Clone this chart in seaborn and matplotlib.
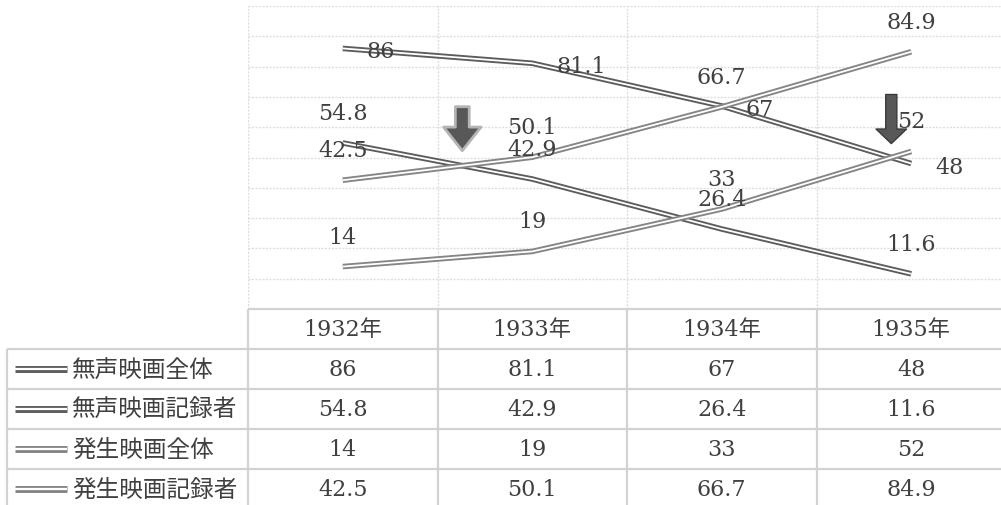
import matplotlib
matplotlib.use("Agg")
import matplotlib.pyplot as plt
import matplotlib.patheffects as pe
import numpy as np
import pandas as pd
import seaborn as sns

# ---- data -------------------------------------------------------------
years = ["1932年", "1933年", "1934年", "1935年"]
series_names = ["無声映画全体", "無声映画記録者", "発生映画全体", "発生映画記録者"]
silent_total = [86, 81.1, 67, 48]
silent_recorded = [54.8, 42.9, 26.4, 11.6]
sound_total = [14, 19, 33, 52]
sound_recorded = [42.5, 50.1, 66.7, 84.9]

series_values = [silent_total, silent_recorded, sound_total, sound_recorded]
series_colors = ["#5c5c5c", "#5c5c5c", "#858585", "#858585"]

# ---- styling ----------------------------------------------------------
sns.set_theme(style="white")
plt.rcParams["font.family"] = ["DejaVu Serif", "Noto Sans CJK JP"]
TEXT = "#404040"
GRID = "#dedede"
TABLE_LINE = "#d2d2d2"
FS = 16        # numbers
FS_JP = 17     # Japanese row labels

W, H = 1001, 506
fig = plt.figure(figsize=(W / 100, H / 100), dpi=100)

# plot area: columns of 189.5 px starting at x=248, from y=7 to y=310
col_px = 189.5
left_px, top_px, plot_bottom_px = 248, 7, 310
ax = fig.add_axes([left_px / W, (H - plot_bottom_px) / H,
                   4 * col_px / W, (plot_bottom_px - top_px) / H])

df = pd.DataFrame({
    "series": np.repeat(series_names, len(years)),
    "pos": np.tile(np.arange(len(years)), len(series_names)),
    "value": np.concatenate(series_values),
})
palette = dict(zip(series_names, series_colors))
sns.lineplot(data=df, x="pos", y="value", hue="series", hue_order=series_names,
             palette=palette, ax=ax, legend=False, sort=False)

# double-line look: white core over a grey stroke
for line, col in zip(ax.lines, series_colors):
    line.set_color("white")
    line.set_linewidth(1.3)
    line.set_solid_capstyle("butt")
    line.set_path_effects([pe.Stroke(linewidth=4.0, foreground=col, capstyle="butt"),
                           pe.Normal()])

ax.set_xlim(-0.5, 3.5)
ax.set_ylim(0, 100)
ax.set_xlabel("")
ax.set_ylabel("")
ax.set_xticks([])
ax.set_yticks([])
for s in ax.spines.values():
    s.set_visible(False)

# dotted grid: every 10 units, and at the column boundaries
for yv in np.arange(10, 101, 10):
    ax.axhline(yv, color=GRID, lw=1.0, ls=(0, (1.5, 1)), zorder=0)
for xv in np.arange(-0.5, 3.5, 1.0):
    ax.axvline(xv, color=GRID, lw=1.0, ls=(0, (1.5, 1)), zorder=0)

# value labels
fmt = lambda v: f"{v:g}"
for i, (name, vals) in enumerate(zip(series_names, series_values)):
    for x, v in enumerate(vals):
        if i == 0:
            ax.annotate(fmt(v), (x, v), xytext=(24, -3), textcoords="offset pixels",
                        ha="left", va="center", fontsize=FS, color=TEXT,
                        annotation_clip=False)
        else:
            ax.annotate(fmt(v), (x, v), xytext=(0, 30), textcoords="offset pixels",
                        ha="center", va="center", fontsize=FS, color=TEXT,
                        annotation_clip=False)


def crossing(a, b):
    a, b = np.asarray(a, float), np.asarray(b, float)
    d = a - b
    for k in range(len(d) - 1):
        if d[k] * d[k + 1] < 0:
            t = d[k] / (d[k] - d[k + 1])
            return k + t, a[k] + t * (a[k + 1] - a[k])
    return None


# arrows pointing down at the two crossover points
arrow_specs = [
    (crossing(silent_recorded, sound_recorded), 59, 10.8,
     "simple,head_length=1.7,head_width=2.7,tail_width=1.0", "#b4b4b4", 2.0),
    (crossing(silent_total, sound_total), 63, 10.0,
     "simple,head_length=1.05,head_width=2.2,tail_width=0.8", "#3a3a3a", 1.0),
]
for (cx, cy), rise, gap, style, edge, elw in arrow_specs:
    ax.annotate("", xy=(cx, cy), xytext=(0, rise), textcoords="offset pixels",
                arrowprops=dict(arrowstyle=style, mutation_scale=10,
                                shrinkA=0, shrinkB=gap, fc="#585858", ec=edge, lw=elw),
                zorder=5)

# ---- data table under the plot --------------------------------------------
row_px = 40
n_rows = 1 + len(series_names)
tab = fig.add_axes([left_px / W, (H - plot_bottom_px - n_rows * row_px) / H,
                    4 * col_px / W, n_rows * row_px / H])
tab.set_xlim(-0.5, 3.5)
tab.set_ylim(n_rows, 0)
tab.axis("off")

x_left = -0.5 - (left_px - 7) / col_px          # outer edge of the label column
key_x0 = -0.5 - (left_px - 15) / col_px
key_x1 = -0.5 - (left_px - 67) / col_px
label_x = -0.5 - (left_px - 72) / col_px

lk = dict(color=TABLE_LINE, lw=1.6, clip_on=False, solid_capstyle="butt")
tab.plot([-0.5, 3.5], [0, 0], **lk)
for r in range(1, n_rows):
    tab.plot([x_left, 3.5], [r, r], **lk)
for xv in np.arange(-0.5, 3.5, 1.0):
    tab.plot([xv, xv], [0, n_rows], **lk)
tab.plot([x_left, x_left], [1, n_rows], **lk)

for c, yr in enumerate(years):
    tab.text(c, 0.5, yr, ha="center", va="center", fontsize=FS, color=TEXT)

for r, (name, vals, col) in enumerate(zip(series_names, series_values, series_colors), start=1):
    key, = tab.plot([key_x0, key_x1], [r + 0.5, r + 0.5], color="white", lw=1.6,
                    clip_on=False, solid_capstyle="butt")
    key.set_path_effects([pe.Stroke(linewidth=5.0, foreground=col, capstyle="butt"),
                          pe.Normal()])
    tab.text(label_x, r + 0.5, name, ha="left", va="center", fontsize=FS_JP,
             color=TEXT, clip_on=False)
    for c, v in enumerate(vals):
        tab.text(c, r + 0.5, fmt(v), ha="center", va="center", fontsize=FS, color=TEXT)

fig.savefig("out.png", dpi=100, facecolor="white")
